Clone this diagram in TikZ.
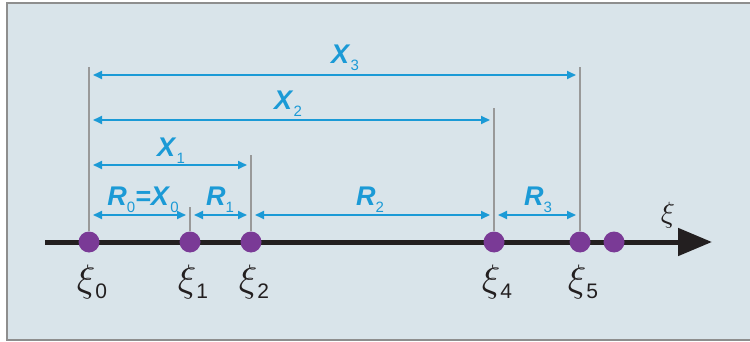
\documentclass[tikz,border=0pt]{standalone}
\usepackage{fontspec}
\setmainfont{Liberation Sans}
\usetikzlibrary{arrows.meta,positioning}
\definecolor{panelbg}{HTML}{D9E4EA}
\definecolor{panelrim}{HTML}{8E8E8E}
\definecolor{dimblue}{HTML}{1B9AD6}
\definecolor{ptpurple}{HTML}{7A3A96}
\definecolor{axisblk}{HTML}{231F20}
\newcommand{\bigxi}[1]{\resizebox*{!}{#1}{$\xi$}}
\newcommand{\xisub}[1]{\bigxi{34pt}\raisebox{-7pt}{\fontsize{21}{21}\selectfont #1}}
\newcommand{\dimsub}[2]{\textbf{\textit{#1}}\raisebox{-7pt}{\fontsize{15}{15}\selectfont #2}}

\begin{document}
\begin{tikzpicture}[x=1pt,y=1pt,
  pt/.style={circle,fill=ptpurple,minimum size=21pt,inner sep=0pt},
  guide/.style={draw=black!40,line width=1.1pt},
  dimline/.style={{Triangle[length=9pt,width=8pt]}-{Triangle[length=9pt,width=8pt]},
                  dimblue,line width=1.8pt,shorten <=4pt,shorten >=4pt},
  dimlbl/.style={dimblue,font=\fontsize{27}{27}\selectfont,inner sep=0pt,anchor=base},
  xilbl/.style={inner sep=0pt,anchor=north,text=axisblk}]

\useasboundingbox (0,0) rectangle (750,-342);
\draw[panelrim,fill=panelbg,line width=1.5pt] (7,-3) rectangle (760,-340);

% the axis
\coordinate (ax0) at (45,-242);
\coordinate (ax1) at (712,-242);
\draw[axisblk,line width=5pt,-{Triangle[length=34pt,width=27pt]}] (ax0) -- (ax1);
\node[text=axisblk,inner sep=0pt] (axl) at (668,-215) {\bigxi{26pt}};

% points on the axis
\node[pt] (x0) at (89,-242)  {};
\node[pt] (x1) at (190,-242) {};
\node[pt] (x2) at (251,-242) {};
\node[pt] (x4) at (494,-242) {};
\node[pt] (x5) at (580,-242) {};
\node[pt] (x6) at (614,-242) {};

\node[xilbl] (l0) at (92,-265)  {\xisub{0}};
\node[xilbl] (l1) at (193,-265) {\xisub{1}};
\node[xilbl] (l2) at (254,-265) {\xisub{2}};
\node[xilbl] (l4) at (497,-265) {\xisub{4}};
\node[xilbl] (l5) at (583,-265) {\xisub{5}};

% guide lines
\coordinate (g0) at (89,-67);
\coordinate (g1) at (190,-207);
\coordinate (g2) at (251,-155);
\coordinate (g4) at (494,-108);
\coordinate (g5) at (580,-67);
\draw[guide] (x0.north) -- (g0);
\draw[guide] (x1.north) -- (g1);
\draw[guide] (x2.north) -- (g2);
\draw[guide] (x4.north) -- (g4);
\draw[guide] (x5.north) -- (g5);

% dimension rows
\coordinate (rowX3) at (0,-75);
\coordinate (rowX2) at (0,-120);
\coordinate (rowX1) at (0,-165);
\coordinate (rowR)  at (0,-215);

\draw[dimline] (x0 |- rowX3) -- (x5 |- rowX3);
\draw[dimline] (x0 |- rowX2) -- (x4 |- rowX2);
\draw[dimline] (x0 |- rowX1) -- (x2 |- rowX1);
\draw[dimline] (x0 |- rowR) -- (x1 |- rowR);
\draw[dimline] (x1 |- rowR) -- (x2 |- rowR);
\draw[dimline] (x2 |- rowR) -- (x4 |- rowR);
\draw[dimline] (x4 |- rowR) -- (x5 |- rowR);

\node[dimlbl] (lX3) at (345,-64)  {\dimsub{X}{3}};
\node[dimlbl] (lX2) at (288,-110) {\dimsub{X}{2}};
\node[dimlbl] (lX1) at (171,-157) {\dimsub{X}{1}};
\node[dimlbl] (lR0) at (143,-205) {\dimsub{R}{0}\textbf{\textit{=}}\dimsub{X}{0}};
\node[dimlbl] (lR1) at (220,-205) {\dimsub{R}{1}};
\node[dimlbl] (lR2) at (370,-205) {\dimsub{R}{2}};
\node[dimlbl] (lR3) at (538,-205) {\dimsub{R}{3}};
\end{tikzpicture}
\end{document}
